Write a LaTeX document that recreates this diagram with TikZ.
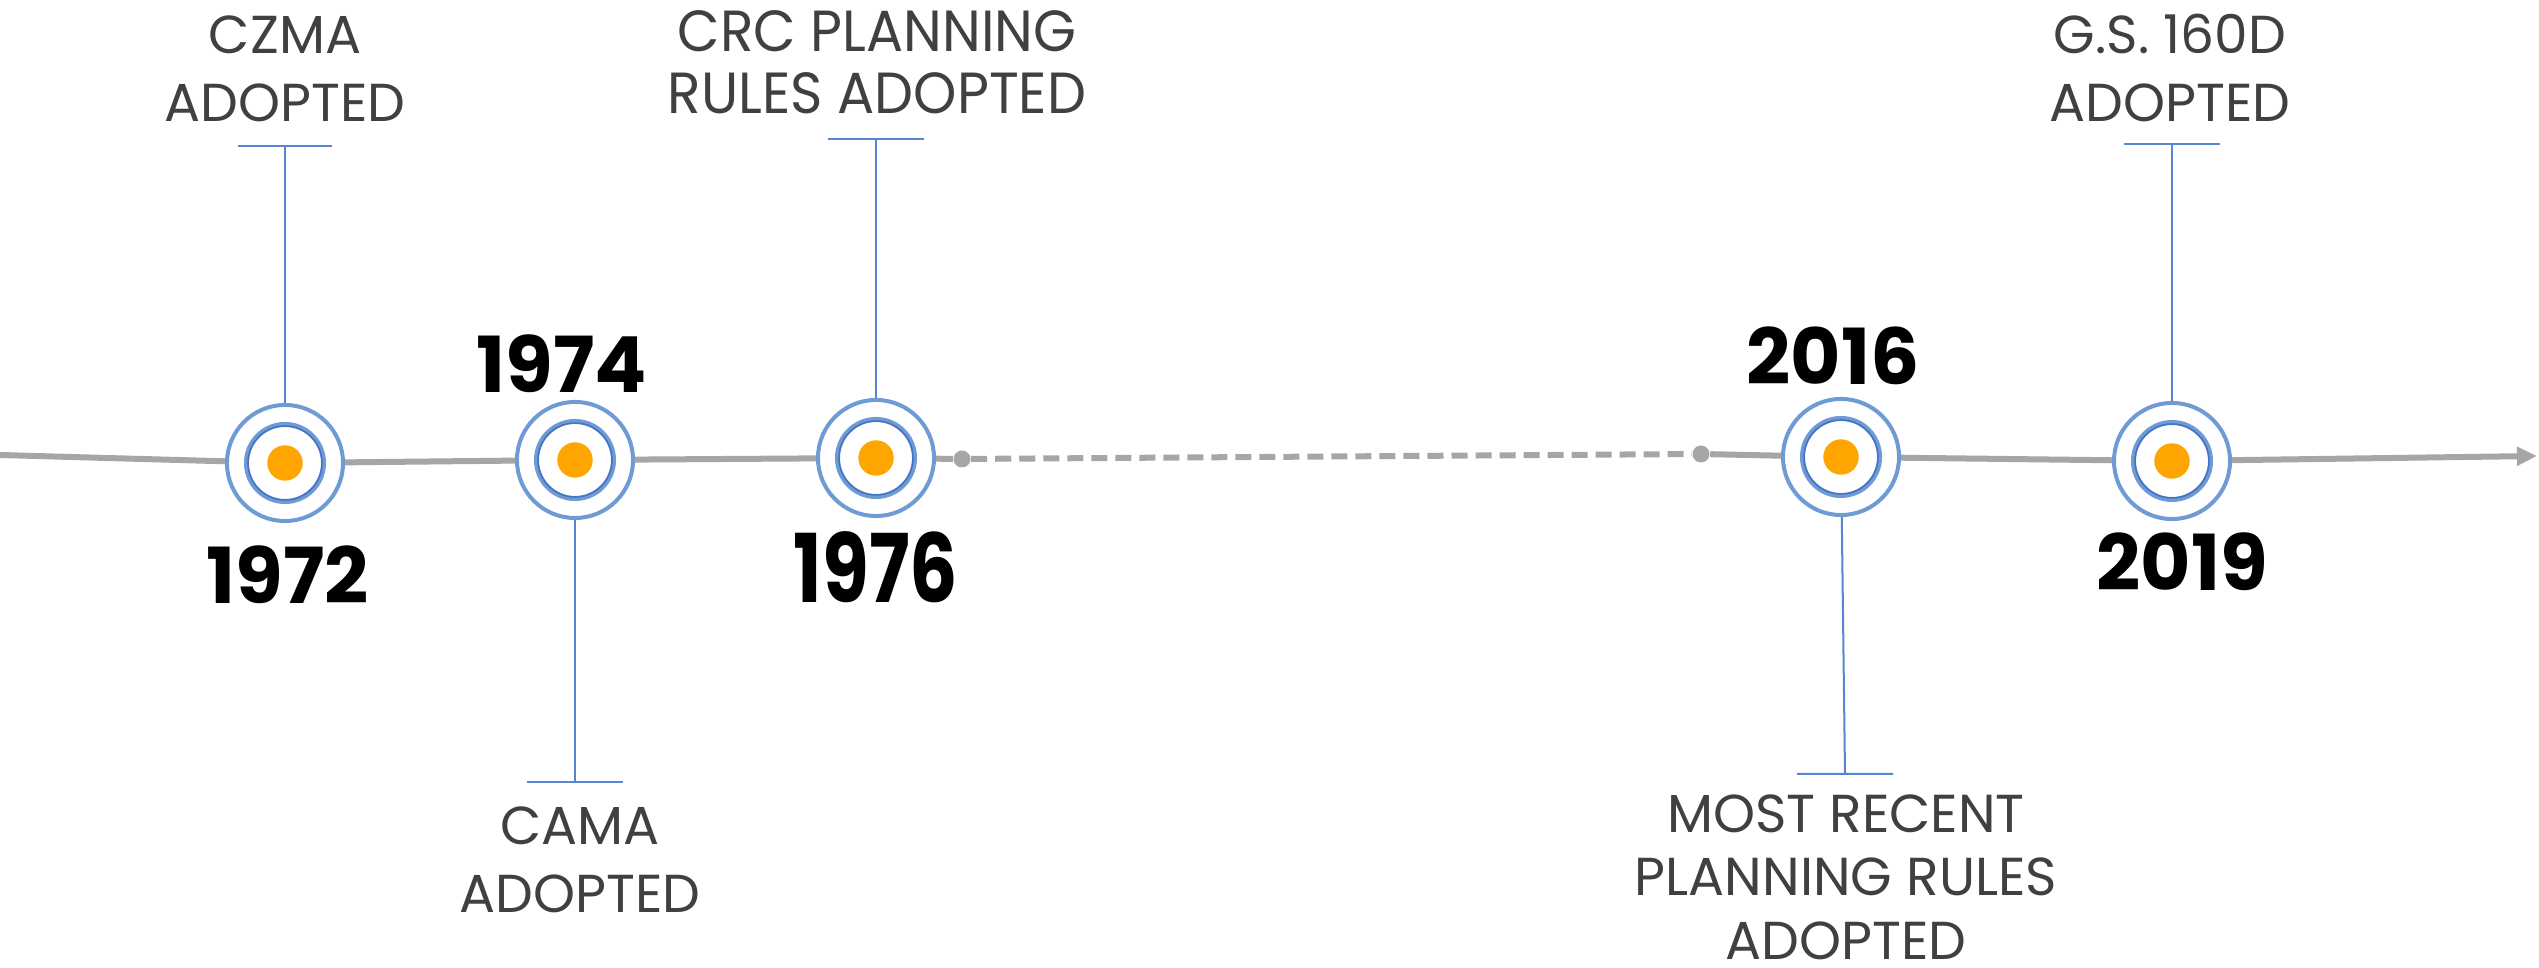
\documentclass[tikz,border=0pt]{standalone}
\usepackage{fontspec}
\setmainfont{Poppins}
\newfontfamily\narrowfont[FakeStretch=0.95]{Poppins}
\newfontfamily\narrowbold[FakeStretch=0.8]{Poppins}
\usetikzlibrary{arrows.meta,calc}
\definecolor{linegray}{HTML}{A6A6A6}
\definecolor{ringblue}{HTML}{6F9BD5}
\definecolor{darkblue}{HTML}{4472C4}
\definecolor{stemblue}{HTML}{5584D2}
\definecolor{dotorange}{HTML}{FFA500}
\definecolor{labelgray}{HTML}{404040}

\tikzset{
  marker/.style={circle, draw=ringblue, line width=0.04cm, fill=white, minimum size=1.16cm, inner sep=0pt},
  event/.style={align=center, inner sep=0pt, text=labelgray, font=\fontsize{15.2}{19.5}\selectfont},
  year/.style={font=\fontsize{22}{26}\selectfont\bfseries},
  stem/.style={stemblue, line width=0.02cm},
  timeline/.style={linegray, line width=0.06cm},
  knot/.style={circle, fill=linegray, minimum size=0.17cm, inner sep=0pt}
}

\begin{document}
\begin{tikzpicture}[x=0.01cm,y=-0.01cm]
\useasboundingbox (0,0) rectangle (2539,968);
% markers on the line
\node[marker] (m1972) at (285,463) {};
\node[marker] (m1974) at (575,460) {};
\node[marker] (m1976) at (876,458) {};
\node[marker] (m2016) at (1841,457) {};
\node[marker] (m2019) at (2172,461) {};
\node[knot] (k1) at (962,459) {};
\node[knot] (k2) at (1701,454) {};
\coordinate (start) at (0,455);
\coordinate (end) at (2537,456);
% the line
\draw[timeline] (start) -- (m1972) -- (m1974) -- (m1976) -- (k1);
\draw[timeline, dash pattern=on 0.16cm off 0.08cm] (k1) -- (k2);
\draw[timeline] (k2) -- (m2016) -- (m2019);
\draw[timeline, -{Triangle[length=0.2cm,width=0.18cm]}] (m2019) -- (end);
\foreach \m in {m1972,m1974,m1976,m2016,m2019}{
  \draw[ringblue, line width=0.05cm] (\m.center) circle[radius=0.385cm];
  \draw[darkblue, line width=0.015cm] (\m.center) circle[radius=0.37cm];
  \fill[dotorange] (\m.center) circle[radius=0.177cm];
}
% stems and bars
\coordinate (t1972) at (285,146);
\coordinate (t1974) at (575,782);
\coordinate (t1976) at (876,139);
\coordinate (t2016) at (1845,774);
\coordinate (t2019) at (2172,144);
\draw[stem] (m1972) -- (t1972) ++(-47,0) -- ++(94,0);
\draw[stem] (m1974) -- (t1974) ++(-48,0) -- ++(96,0);
\draw[stem] (m1976) -- (t1976) ++(-48,0) -- ++(96,0);
\draw[stem] (m2016) -- (t2016) ++(-48,0) -- ++(96,0);
\draw[stem] (m2019) -- (t2019) ++(-48,0) -- ++(96,0);
% texts
\node[event] (czma) at (285,69) {CZMA\\ADOPTED};
\node[event, font=\fontsize{16.5}{17.5}\narrowfont] (crc) at (877,62) {CRC PLANNING\\RULES ADOPTED};
\node[event] (cama) at (580,860) {CAMA\\ADOPTED};
\node[event, font=\fontsize{15.2}{18.1}\selectfont] (recent) at (1846,877) {MOST RECENT\\PLANNING RULES\\ADOPTED};
\node[event] (gs) at (2170,68) {G.S. 160D\\ADOPTED};
\node[year] (y1972) at (288,575) {1972};
\node[year] (y1974) at (562,364) {1974};
\node[year, font=\fontsize{27}{30}\narrowbold\bfseries] (y1976) at (876,567) {1976};
\node[year] (y2016) at (1833,356) {2016};
\node[year] (y2019) at (2182,562) {2019};
\end{tikzpicture}
\end{document}
